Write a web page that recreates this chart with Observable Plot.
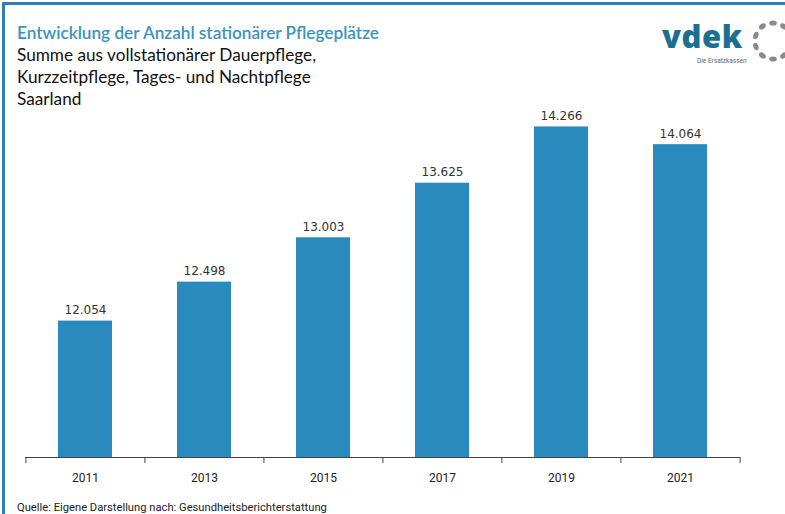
<!DOCTYPE html>
<html>
<head>
<meta charset="utf-8">
<script src="https://cdn.jsdelivr.net/npm/d3@7"></script>
<script src="https://cdn.jsdelivr.net/npm/@observablehq/plot@0.6"></script>
<style>
  html, body { margin: 0; padding: 0; background: #fff; }
  #wrap { position: relative; width: 785px; height: 514px; overflow: hidden; background: #fff; }
  #chart { position: absolute; left: 0; top: 0; }
  .border-top { position: absolute; left: 2px; top: 2px; width: 783px; height: 3px; background: #2f7fb6; }
  .border-left { position: absolute; left: 2px; top: 2px; width: 3px; height: 512px; background: #2f7fb6; }
  #head { position: absolute; left: 17px; top: 22px; font-family: Lato, "Noto Sans", sans-serif; }
  #head .t { color: #3a93c4; font-size: 17.2px; font-weight: 600; line-height: 22px; }
  #head .s { color: #111; font-size: 17.2px; line-height: 22px; }
  #logo-v { position: absolute; left: 662px; top: 21px; font-family: "Open Sans", sans-serif; font-weight: 800; font-size: 31px; letter-spacing: 0.6px; color: #1b6f92; line-height: 30px; height: 30px; }
  #logo-e { position: absolute; left: 697px; top: 57.5px; font-family: Roboto, sans-serif; font-size: 6.5px; line-height: 7px; color: #666; white-space: nowrap; }
  #dots { position: absolute; left: 750px; top: 18px; }
  #src { position: absolute; left: 17px; top: 501px; font-family: Roboto, sans-serif; font-size: 11.2px; color: #222; white-space: nowrap; }
</style>
</head>
<body>
<div id="wrap">
  <div id="chart"></div>
  <div class="border-top"></div>
  <div class="border-left"></div>
  <div id="head">
    <div class="t">Entwicklung der Anzahl stationärer Pflegeplätze</div>
    <div class="s">Summe aus vollstationärer Dauerpflege,</div>
    <div class="s">Kurzzeitpflege, Tages- und Nachtpflege</div>
    <div class="s">Saarland</div>
  </div>
  <div id="logo-v">vdek</div>
  <div id="logo-e">Die Ersatzkassen</div>
  <svg id="dots" width="46" height="46"></svg>
  <div id="src">Quelle: Eigene Darstellung nach: Gesundheitsberichterstattung</div>
</div>
<script>
const years = ["2011", "2013", "2015", "2017", "2019", "2021"];
const values = [12054, 12498, 13003, 13625, 14266, 14064];

const data = years.map((y, i) => ({year: y, value: values[i]}));
const de = d3.formatLocale({decimal: ",", thousands: ".", grouping: [3], currency: ["", " €"]});
const fmt = de.format(",");

const W = 785, H = 514, ML = 25, MR = 45, MT = 62, MB = 57;
const step = (W - ML - MR) / years.length;
const yMin = 10500;

const plot = Plot.plot({
  width: W,
  height: H,
  marginLeft: ML,
  marginRight: MR,
  marginTop: MT,
  marginBottom: MB,
  style: {background: "transparent", fontFamily: "Roboto, sans-serif"},
  x: {domain: years, paddingInner: 0.55, paddingOuter: 0.275, label: null},
  y: {domain: [yMin, 15000], axis: null},
  marks: [
    Plot.barY(data, {x: "year", y1: yMin, y2: "value", fill: "#2a89bd"}),
    Plot.ruleY([yMin], {stroke: "#444", strokeWidth: 1}),
    Plot.ruleX(years, {x: d => d, y1: yMin, y2: yMin, insetBottom: -6, dx: -step / 2, stroke: "#444"}),
    Plot.ruleX(years.slice(-1), {x: d => d, y1: yMin, y2: yMin, insetBottom: -6, dx: step / 2, stroke: "#444"}),
    Plot.axisX({tickSize: 0, tickPadding: 16, fontSize: 12, fill: "#222", label: null}),
    Plot.text(data, {x: "year", y: "value", text: d => fmt(d.value), dy: -11, fontSize: 12, fill: "#333",
      fontFamily: "DejaVu Sans, sans-serif", lineAnchor: "middle"})
  ]
});
document.getElementById("chart").appendChild(plot);

// logo dots ring
const dots = d3.select("#dots");
const n = 10, cx = 23, cy = 23, r = 18;
for (let i = 0; i < n; i++) {
  const a = (i / n) * 2 * Math.PI - Math.PI / 2;
  const px = cx + r * Math.cos(a), py = cy + r * Math.sin(a);
  dots.append("ellipse")
    .attr("cx", px).attr("cy", py)
    .attr("rx", 2.6).attr("ry", 3.8)
    .attr("transform", `rotate(${a * 180 / Math.PI}, ${px}, ${py})`)
    .attr("fill", "#8a8a8a");
}
</script>
</body>
</html>
